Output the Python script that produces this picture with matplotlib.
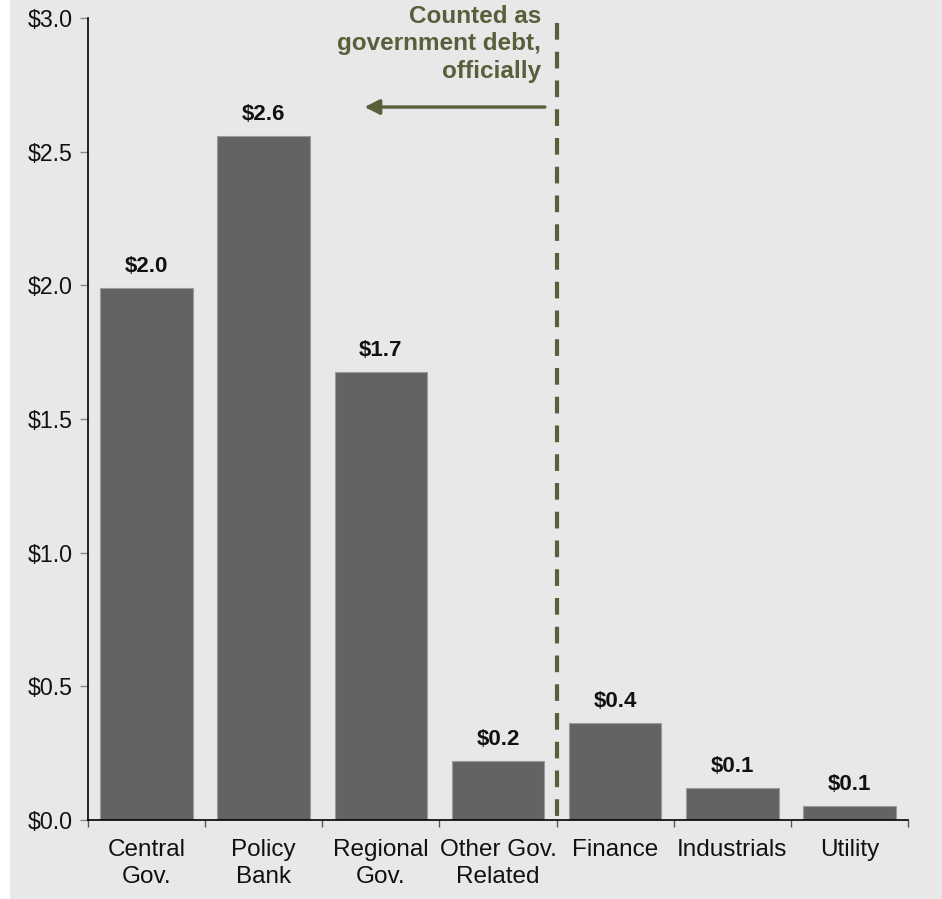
import matplotlib

matplotlib.use("Agg")
import matplotlib.pyplot as plt
from matplotlib.patches import Rectangle
import numpy as np

plt.rcParams["font.family"] = ["Liberation Sans", "DejaVu Sans"]

# data (USD trillions)
categories = ["Central\nGov.", "Policy\nBank", "Regional\nGov.", "Other Gov.\nRelated",
              "Finance", "Industrials", "Utility"]
values = [1.99, 2.56, 1.675, 0.22, 0.362, 0.118, 0.052]
yticks = [0.0, 0.5, 1.0, 1.5, 2.0, 2.5, 3.0]
note = "Counted as\ngovernment debt,\nofficially"

BG = "#e8e8e8"
BAR = "#636363"
OLIVE = "#5a5e3a"

fig = plt.figure(figsize=(9.42, 8.99), dpi=100)
fig.patch.set_facecolor("white")
fig.patches.append(Rectangle((10 / 942, 0), 1, 1, transform=fig.transFigure,
                             facecolor=BG, edgecolor="none", zorder=-10))

ax = fig.add_axes((88 / 942, 79 / 899, 820 / 942, 802 / 899))
ax.set_facecolor("none")

x = np.arange(len(categories))
ax.bar(x, values, width=0.79, color=BAR, edgecolor="#9a9a9a", linewidth=0.8, zorder=2)
for xi, v in zip(x, values):
    ax.annotate(f"${v:.1f}", (xi, v), xytext=(0, 8), textcoords="offset points",
                ha="center", va="bottom", fontsize=16, fontweight="bold", color="#111111")

ax.set_xlim(-0.5, len(categories) - 0.5)
ax.set_ylim(0, 3.0)
ax.set_yticks(yticks)
ax.set_yticklabels([f"${t:.1f}" for t in yticks], fontsize=16.7, color="#111111")
ax.set_xticks(x)
ax.set_xticklabels(categories, fontsize=17.5, color="#111111", linespacing=1.3)
ax.set_xticks(np.arange(len(categories) + 1) - 0.5, minor=True)
ax.tick_params(axis="x", which="major", length=0, pad=13.5)
ax.tick_params(axis="x", which="minor", length=5, color="#555555", width=1)
ax.tick_params(axis="y", length=6, color="#888888", width=1, pad=5)
for side in ("top", "right"):
    ax.spines[side].set_visible(False)
ax.spines["left"].set_color("black")
ax.spines["bottom"].set_color("black")
ax.spines["left"].set_linewidth(1.2)
ax.spines["bottom"].set_linewidth(1.2)

# divider between official government debt and the rest
ax.plot([3.5, 3.5], [2.98, -0.012], color=OLIVE, linewidth=3, dashes=(4.0, 2.9),
        clip_on=False, zorder=3)
ax.annotate("", xy=(1.86, 2.667), xytext=(3.4, 2.667),
            arrowprops=dict(arrowstyle="-|>,head_length=0.9,head_width=0.45",
                            color=OLIVE, lw=2.4, shrinkA=0, shrinkB=0))
ax.text(3.37, 3.05, note, ha="right", va="top", fontsize=17.5, fontweight="bold",
        color=OLIVE, linespacing=1.25, clip_on=False)

fig.savefig("out.png", dpi=100, facecolor=fig.get_facecolor())
